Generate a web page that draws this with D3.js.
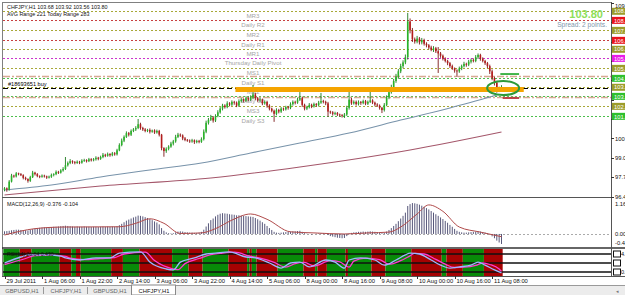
<!DOCTYPE html>
<html>
<head>
<meta charset="utf-8">
<script src="https://cdn.jsdelivr.net/npm/d3@7"></script>
<style>
body { margin: 0; background: #fff; overflow: hidden; }
svg { display: block; font-family: "Liberation Sans", Arial, sans-serif; }
</style>
</head>
<body>
<svg></svg>
<script>
// H1 closes, 29 Jul 14:00 .. 11 Aug 12:00
const closes = [
    97.00, 96.92, 97.45, 97.85, 97.80, 98.00, 97.95, 97.88, 97.70, 97.62,
    97.50, 97.75, 98.05, 97.95, 97.82, 97.78, 97.85, 97.80, 97.72, 97.78,
    97.90, 97.95, 98.10, 98.05, 98.20, 98.30, 98.55, 98.70, 98.82, 98.75,
    98.70, 98.78, 98.72, 98.85, 98.90, 98.82, 98.95, 98.88, 98.95, 99.05,
    98.98, 99.10, 99.25, 99.18, 99.30, 99.22, 99.35, 99.28, 99.55, 99.90,
    100.20, 100.45, 100.70, 100.60, 100.85, 100.95, 101.05, 101.30, 101.05, 100.95,
    100.85, 100.92, 100.80, 100.88, 100.75, 100.85, 100.60, 99.70, 99.50, 99.65,
    99.80, 100.00, 100.15, 100.45, 100.60, 100.55, 100.35, 100.25, 100.20, 100.15,
    100.22, 100.10, 100.18, 100.12, 100.30, 100.80, 101.40, 101.60, 101.75, 101.55,
    101.85, 102.10, 102.35, 102.55, 102.45, 102.70, 102.62, 102.80, 102.75, 102.55,
    102.85, 102.95, 102.88, 103.05, 102.95, 103.10, 103.30, 103.05, 102.90, 102.95,
    102.70, 102.80, 102.55, 102.35, 102.20, 102.00, 102.25, 102.15, 102.35, 102.30,
    102.45, 102.40, 102.65, 102.80, 102.75, 102.95, 103.05, 102.60, 102.35, 102.45,
    102.60, 102.50, 102.65, 102.58, 102.75, 102.85, 102.80, 102.70, 102.15, 102.10,
    102.00, 102.05, 101.95, 101.90, 101.85, 101.95, 102.40, 102.95, 102.70, 102.80,
    102.65, 102.78, 102.72, 102.85, 102.68, 102.80, 102.90, 102.75, 102.62, 102.55,
    102.40, 102.25, 102.60, 103.10, 103.45, 103.80, 104.20, 104.50, 104.85, 105.20,
    105.45, 105.80, 108.20, 107.60, 107.00, 106.85, 107.05, 106.80, 106.95, 106.70,
    106.60, 106.45, 106.30, 106.40, 106.20, 106.05, 105.90, 105.70, 105.55, 105.40,
    105.20, 105.05, 104.90, 104.85, 105.05, 105.20, 105.35, 105.30, 105.50, 105.60,
    105.55, 105.80, 105.95, 105.70, 105.55, 105.40, 105.20, 104.85, 104.40, 104.10,
    103.60, 103.68, 103.80
]
const firstOpen = 96.90

// wicks in pips above / below the body
const wickUp = [
    8, 6, 10, 12, 6, 9, 5, 7, 6, 8,
    5, 9, 12, 6, 7, 5, 8, 6, 5, 7,
    9, 6, 10, 7, 8, 12, 55, 10, 14, 6,
    8, 9, 6, 10, 8, 5, 9, 7, 8, 10,
    6, 9, 12, 7, 10, 6, 9, 8, 10, 12,
    14, 10, 12, 8, 10, 9, 12, 35, 10, 8,
    9, 7, 10, 6, 8, 9, 7, 5, 6, 10,
    9, 12, 10, 14, 12, 8, 7, 9, 6, 8,
    10, 6, 8, 7, 12, 15, 14, 12, 18, 10,
    12, 14, 10, 12, 9, 14, 8, 10, 7, 8,
    12, 10, 8, 12, 9, 14, 63, 10, 8, 12,
    7, 10, 8, 9, 6, 8, 12, 8, 10, 7,
    9, 8, 12, 10, 8, 14, 41, 10, 8, 9,
    12, 8, 10, 7, 12, 55, 9, 8, 10, 6,
    8, 9, 7, 6, 8, 10, 14, 78, 12, 10,
    9, 12, 8, 10, 8, 9, 90, 8, 7, 9,
    8, 6, 12, 14, 16, 15, 14, 18, 15, 16,
    14, 18, 57, 20, 16, 12, 18, 10, 14, 9,
    10, 8, 12, 14, 9, 28, 10, 8, 9, 7,
    8, 10, 6, 8, 12, 10, 14, 8, 12, 10,
    12, 14, 10, 8, 9, 7, 8, 10, 12, 9,
    10, 14, 12
]
const wickDn = [
    10, 15, 8, 6, 9, 7, 8, 6, 10, 8,
    12, 7, 6, 9, 8, 10, 7, 8, 9, 6,
    8, 10, 7, 9, 6, 8, 7, 9, 8, 10,
    9, 6, 10, 7, 8, 9, 6, 8, 7, 9,
    10, 7, 8, 9, 6, 10, 7, 9, 8, 6,
    8, 10, 7, 12, 9, 8, 10, 8, 12, 10,
    9, 8, 12, 7, 10, 8, 12, 15, 38, 12,
    10, 8, 12, 9, 8, 10, 12, 9, 8, 10,
    9, 12, 8, 10, 7, 9, 10, 12, 8, 14,
    10, 8, 9, 12, 10, 8, 12, 9, 14, 10,
    9, 10, 12, 8, 10, 9, 12, 14, 10, 9,
    12, 9, 14, 12, 10, 54, 10, 12, 9, 10,
    8, 12, 9, 10, 12, 8, 9, 14, 12, 10,
    9, 12, 8, 10, 9, 8, 10, 12, 35, 10,
    12, 9, 10, 8, 10, 13, 9, 12, 10, 8,
    10, 9, 12, 8, 10, 9, 8, 10, 12, 9,
    12, 20, 10, 9, 12, 10, 14, 12, 15, 12,
    14, 12, 16, 20, 18, 14, 12, 15, 14, 12,
    14, 12, 10, 15, 12, 131, 14, 12, 10, 14,
    12, 10, 14, 38, 10, 12, 9, 14, 10, 12,
    10, 9, 12, 14, 10, 12, 14, 18, 15, 20,
    18, 14, 12
]

// moving averages, read at a few bars
const maBlueBars = [0, 20, 41, 62, 84, 105, 126, 147, 169, 190, 210]
const maBlueVals = [96.89, 97.22, 97.76, 98.23, 98.70, 99.37, 100.04, 100.71, 101.58, 102.39, 103.26]
const maRedBars = [0, 41, 88, 126, 173, 212]
const maRedVals = [96.55, 97.15, 97.69, 98.43, 99.57, 100.78]

// pivot levels for Thursday
const pivotNames = ['MR3', 'Daily R2', 'MR2', 'Daily R1', 'MR1', 'Thursday  Daily Pivot',
    'MS1', 'Daily S1', 'MS2', 'Daily S2', 'MS3', 'Daily S3']
const pivotVals = [108.88, 108.27, 107.60, 106.93, 106.33, 105.72, 105.05, 104.38, 103.78, 103.17, 102.50, 101.83]
const pivotKinds = ['m', 'r', 'm', 'r', 'm', 'p', 'm', 's', 'm', 's', 'm', 's']

const orderPrice = 103.76
const dashPrices = [104.53, 103.13]
const zonePrice = 103.63
const zoneBars = [98.5, 221.5]
const tpPrice = 104.67
const slPrice = 103.06
const circleBar = 212.7
const circlePrice = 103.73

const priceTicks = [96.45, 97.75, 99.05, 100.35, 101.65, 102.95, 104.25, 105.55, 106.85, 108.15, 109.45]

const timeBars = [0, 16, 32, 48, 64, 80, 96, 112, 128, 144, 160, 176, 192, 208]
const timeLabels = ['29 Jul 2011', '1 Aug 06:00', '1 Aug 22:00', '2 Aug 14:00', '3 Aug 06:00',
    '3 Aug 22:00', '4 Aug 14:00', '5 Aug 06:00', '8 Aug 00:00', '8 Aug 16:00',
    '9 Aug 08:00', '10 Aug 00:00', '10 Aug 16:00', '11 Aug 08:00']

// MACD histogram per bar and signal line
const macdHist = [
    0.10, 0.11, 0.12, 0.14, 0.15, 0.16, 0.16, 0.15, 0.14, 0.14,
    0.13, 0.15, 0.18, 0.20, 0.22, 0.23, 0.24, 0.25, 0.24, 0.25,
    0.26, 0.27, 0.27, 0.28, 0.29, 0.30, 0.31, 0.30, 0.29, 0.28,
    0.27, 0.28, 0.27, 0.27, 0.28, 0.27, 0.27, 0.26, 0.27, 0.27,
    0.26, 0.27, 0.28, 0.27, 0.28, 0.27, 0.28, 0.27, 0.29, 0.33,
    0.38, 0.44, 0.50, 0.54, 0.58, 0.62, 0.65, 0.69, 0.68, 0.66,
    0.63, 0.60, 0.56, 0.52, 0.47, 0.43, 0.36, 0.22, 0.12, 0.06,
    0.03, 0.02, 0.03, 0.06, 0.09, 0.10, 0.09, 0.07, 0.06, 0.05,
    0.05, 0.04, 0.04, 0.05, 0.08, 0.16, 0.28, 0.40, 0.52, 0.58,
    0.66, 0.72, 0.76, 0.78, 0.77, 0.76, 0.74, 0.73, 0.72, 0.70,
    0.70, 0.69, 0.68, 0.67, 0.66, 0.65, 0.64, 0.60, 0.55, 0.50,
    0.44, 0.38, 0.30, 0.22, 0.15, 0.08, 0.05, 0.04, 0.05, 0.06,
    0.07, 0.08, 0.09, 0.10, 0.10, 0.11, 0.12, 0.08, 0.03, 0.01,
    0.00, -0.02, 0.00, 0.01, 0.02, 0.03, 0.03, 0.02, -0.04, -0.08,
    -0.10, -0.12, -0.14, -0.15, -0.16, -0.15, -0.08, 0.02, 0.04, 0.06,
    0.07, 0.08, 0.08, 0.09, 0.08, 0.09, 0.10, 0.09, 0.08, 0.07,
    0.05, 0.03, 0.04, 0.09, 0.15, 0.22, 0.30, 0.38, 0.48, 0.58,
    0.68, 0.80, 1.05, 1.12, 1.16, 1.15, 1.13, 1.10, 1.06, 1.02,
    0.97, 0.92, 0.86, 0.80, 0.74, 0.68, 0.62, 0.56, 0.49, 0.42,
    0.34, 0.27, 0.19, 0.12, 0.08, 0.06, 0.05, 0.05, 0.06, 0.07,
    0.08, 0.09, 0.10, 0.09, 0.07, 0.05, 0.03, -0.02, -0.09, -0.16,
    -0.25, -0.32, -0.376
]
const sigBars = [0, 13, 25, 49, 56, 62, 68, 75, 84, 90, 97, 105, 112, 122, 132, 145, 155, 164, 169, 176, 181, 187, 194, 203, 212]
const sigVals = [-0.04, 0.20, 0.26, 0.27, 0.40, 0.57, 0.40, 0.02, 0.04, 0.20, 0.52, 0.75, 0.55, 0.08, 0.04, 0.00, 0.04, 0.07, 0.26, 0.75, 1.09, 0.85, 0.26, 0.07, -0.104]
const macdTicks = [1.162, 0, -0.44]

// lower oscillator
const oscBarsA = [0, 7, 11, 17, 24, 26, 32, 39, 45, 49, 58, 62, 69, 72, 75, 81, 86, 90, 96, 103, 107, 113, 118, 122, 126, 130, 137, 141, 145, 147, 152, 158, 162, 167, 171, 173, 177, 182, 186, 190, 194, 199, 202, 205, 209, 212]
const oscValsA = [50, 70, 77, 77, 73, 67, 60, 67, 67, 83, 87, 53, 30, 27, 53, 67, 80, 83, 87, 70, 67, 50, 33, 50, 53, 37, 60, 53, 33, 60, 67, 60, 43, 60, 77, 83, 80, 60, 43, 33, 37, 43, 53, 43, 27, 17]
const oscBarsB = [0, 9, 13, 19, 26, 28, 34, 41, 47, 51, 60, 64, 71, 74, 77, 83, 88, 92, 98, 105, 109, 115, 120, 124, 128, 132, 139, 143, 147, 149, 154, 160, 164, 169, 173, 175, 179, 184, 188, 192, 196, 201, 204, 207, 211, 212]
const oscValsB = [45, 65, 75, 76, 72, 66, 61, 65, 68, 80, 86, 58, 32, 28, 48, 65, 78, 82, 86, 72, 66, 52, 36, 48, 52, 40, 58, 54, 36, 56, 66, 61, 46, 58, 74, 82, 80, 62, 46, 35, 36, 42, 50, 45, 30, 22]
const oscLevels = [80, 50, 20]
const oscTags = ['4.6', '', '0.42']
const bandStarts = [0, 7, 12, 24, 29, 31, 33, 46, 51, 58, 72, 79, 85, 96, 104, 105, 106, 108, 117, 128, 133, 134, 138, 146, 147, 157, 163, 174, 187, 189, 196, 205, 213]
const bandColors = ['g', 'r', 'g', 'r', 'g', 'r', 'g', 'r', 'g', 'r', 'g', 'r', 'g', 'r', 'g', 'r', 'g', 'r', 'g', 'r', 'g', 'r', 'g', 'r', 'g', 'r', 'g', 'r', 'g', 'r', 'g', 'r']

const tabNames = ['GBPUSD,H1', 'CHFJPY,H1', 'GBPUSD,H1', 'CHFJPY,H1']

// Canvas setup
let width = 625
let height = 295
let left = 3
let right = 611
let svg = d3.select('svg').attr('width', width).attr('height', height)

let x = d3.scaleLinear().domain([0, 212]).range([4.5, 501.5])
let y = d3.scaleLinear().domain([96.45, 109.45]).range([196.5, 2.8])
let yMacd = d3.scaleLinear().domain([-0.44, 1.162]).range([245.7, 203])
let yOsc = d3.scaleLinear().domain([0, 100]).range([278, 248])
let step = x(1) - x(0)

svg.append('rect').attr('width', width).attr('height', height).attr('fill', '#fff')

let defs = svg.append('defs')
let clip = (id, y0, y1) => {
    defs.append('clipPath').attr('id', id)
        .append('rect').attr('x', left).attr('y', y0).attr('width', right - left).attr('height', y1 - y0)
}
clip('cMain', 3, 197)
clip('cMacd', 198, 247.5)
clip('cOsc', 249, 276)

let main = svg.append('g').attr('clip-path', 'url(#cMain)')
let py = (v) => Math.round(y(v)) + 0.5

// Pivot lines and their labels
let pivotColor = { m: '#a8a838', r: '#c84040', p: '#cc33cc', s: '#4cbf4c' }
main.selectAll('.pv')
    .data(pivotVals)
    .enter()
    .append('line')
    .attr('x1', left).attr('x2', right)
    .attr('y1', (d) => py(d)).attr('y2', (d) => py(d))
    .attr('stroke', (d, i) => pivotColor[pivotKinds[i]])
    .attr('stroke-dasharray', '2,2')
    .attr('stroke-width', 1)

main.selectAll('.pvl')
    .data(pivotVals)
    .enter()
    .append('text')
    .attr('x', x(106))
    .attr('y', (d) => y(d) + 6.5)
    .attr('text-anchor', 'middle')
    .attr('font-size', 6.2)
    .attr('fill', '#a6a6a6')
    .text((d, i) => pivotNames[i])

main.selectAll('.dl')
    .data(dashPrices)
    .enter()
    .append('line')
    .attr('x1', left).attr('x2', right)
    .attr('y1', (d) => py(d)).attr('y2', (d) => py(d))
    .attr('stroke', '#d7a993')
    .attr('stroke-width', 1.3)
    .attr('stroke-dasharray', '7,2,2,2')

// order line
main.append('line')
    .attr('x1', left).attr('x2', right)
    .attr('y1', py(orderPrice)).attr('y2', py(orderPrice))
    .attr('stroke', '#000').attr('stroke-dasharray', '5,3')
main.append('text')
    .attr('x', 8).attr('y', y(orderPrice) - 2)
    .attr('font-size', 5.6).attr('fill', '#000')
    .text('#18693651 buy')

// moving averages
let lineGen = d3.line().x((d) => x(d[0])).y((d) => y(d[1])).curve(d3.curveMonotoneX)
main.append('path')
    .attr('d', lineGen(maRedBars.map((b, i) => [b, maRedVals[i]])))
    .attr('fill', 'none').attr('stroke', '#a4566a').attr('stroke-width', 1.1)
main.append('path')
    .attr('d', lineGen(maBlueBars.map((b, i) => [b, maBlueVals[i]])))
    .attr('fill', 'none').attr('stroke', '#7893aa').attr('stroke-width', 1.1)

// candles
let candles = closes.map((c, i) => {
    let o = i === 0 ? firstOpen : closes[i - 1]
    return { i: i, o: o, c: c, h: Math.max(o, c) + wickUp[i] / 100, l: Math.min(o, c) - wickDn[i] / 100 }
})
main.selectAll('.wick')
    .data(candles)
    .enter()
    .append('line')
    .attr('x1', (d) => x(d.i)).attr('x2', (d) => x(d.i))
    .attr('y1', (d) => y(d.h)).attr('y2', (d) => y(d.l))
    .attr('stroke', (d) => d.c >= d.o ? '#1d7a1d' : '#7a1616')
    .attr('stroke-width', 0.9)
main.selectAll('.body')
    .data(candles)
    .enter()
    .append('rect')
    .attr('x', (d) => x(d.i) - 0.8)
    .attr('width', 1.6)
    .attr('y', (d) => y(Math.max(d.o, d.c)))
    .attr('height', (d) => Math.max(0.8, Math.abs(y(d.o) - y(d.c))))
    .attr('fill', (d) => d.c >= d.o ? '#28b428' : '#b41c1c')

// drawn objects
main.append('line')
    .attr('x1', x(zoneBars[0])).attr('x2', x(zoneBars[1]))
    .attr('y1', y(zonePrice)).attr('y2', y(zonePrice))
    .attr('stroke', '#f5a400').attr('stroke-width', 5)
main.append('ellipse')
    .attr('cx', x(circleBar)).attr('cy', y(circlePrice))
    .attr('rx', 16).attr('ry', 7)
    .attr('fill', 'none').attr('stroke', '#2e9a3a').attr('stroke-width', 2)
main.append('line')
    .attr('x1', x(211.5)).attr('x2', x(219.5))
    .attr('y1', y(tpPrice)).attr('y2', y(tpPrice))
    .attr('stroke', '#2fae3a').attr('stroke-width', 1.8)
main.append('line')
    .attr('x1', x(212.5)).attr('x2', x(219.5))
    .attr('y1', y(slPrice)).attr('y2', y(slPrice))
    .attr('stroke', '#b8343a').attr('stroke-width', 1.8)

// header texts
svg.append('text').attr('x', 7).attr('y', 9).attr('font-size', 5.4).attr('fill', '#111')
    .text('CHFJPY,H1  103.68 103.92 103.56 103.80')
svg.append('text').attr('x', 7).attr('y', 16).attr('font-size', 5.4).attr('fill', '#111')
    .text('AVG Range 221    Today Range 283')
svg.append('text').attr('x', 603).attr('y', 18).attr('text-anchor', 'end')
    .attr('font-size', 11).attr('font-weight', 'bold').attr('fill', '#8ee05a')
    .text('103.80')
svg.append('text').attr('x', 607).attr('y', 26.5).attr('text-anchor', 'end')
    .attr('font-size', 6.6).attr('fill', '#7f97ad')
    .text('Spread: 2 points.')

// MACD panel
let macd = svg.append('g').attr('clip-path', 'url(#cMacd)')
macd.append('line')
    .attr('x1', left).attr('x2', right)
    .attr('y1', Math.round(yMacd(0)) + 0.5).attr('y2', Math.round(yMacd(0)) + 0.5)
    .attr('stroke', '#aaa').attr('stroke-dasharray', '2,2')
macd.selectAll('.hist')
    .data(macdHist)
    .enter()
    .append('line')
    .attr('x1', (d, i) => x(i)).attr('x2', (d, i) => x(i))
    .attr('y1', yMacd(0)).attr('y2', (d) => yMacd(d))
    .attr('stroke', '#45456c').attr('stroke-width', 0.9)
macd.append('path')
    .attr('d', d3.line().x((d) => x(d[0])).y((d) => yMacd(d[1])).curve(d3.curveMonotoneX)(sigBars.map((b, i) => [b, sigVals[i]])))
    .attr('fill', 'none').attr('stroke', '#b04a4a').attr('stroke-width', 1)
svg.append('text').attr('x', 7).attr('y', 206).attr('font-size', 5.4).attr('fill', '#111')
    .text('MACD(12,26,9) -0.376 -0.104')

// Oscillator panel
let osc = svg.append('g').attr('clip-path', 'url(#cOsc)')
osc.selectAll('.band')
    .data(bandColors)
    .enter()
    .append('rect')
    .attr('x', (d, i) => x(bandStarts[i]) - step / 2)
    .attr('width', (d, i) => x(bandStarts[i + 1]) - x(bandStarts[i]))
    .attr('y', 249).attr('height', 27)
    .attr('fill', (d) => d === 'g' ? '#088a08' : '#a50202')
osc.selectAll('.lvl')
    .data(oscLevels)
    .enter()
    .append('line')
    .attr('x1', left).attr('x2', right)
    .attr('y1', (d) => yOsc(d)).attr('y2', (d) => yOsc(d))
    .attr('stroke', '#111').attr('stroke-width', 1.6)
let oscLine = d3.line().x((d) => x(d[0])).y((d) => yOsc(d[1])).curve(d3.curveMonotoneX)
osc.append('path')
    .attr('d', oscLine(oscBarsB.map((b, i) => [b, oscValsB[i]])))
    .attr('fill', 'none').attr('stroke', '#ff38d0').attr('stroke-width', 1.3)
osc.append('path')
    .attr('d', oscLine(oscBarsA.map((b, i) => [b, oscValsA[i]])))
    .attr('fill', 'none').attr('stroke', '#9cb6ff').attr('stroke-width', 1.3)
svg.append('text').attr('x', 7).attr('y', 256).attr('font-size', 5.2).attr('fill', '#111')
    .text('RSI(14) 26.64 0.430')

// frames and separators
svg.append('rect').attr('x', 2.5).attr('y', 2.5).attr('width', right - 2).attr('height', 274)
    .attr('fill', 'none').attr('stroke', '#808080')
svg.append('line').attr('x1', 2).attr('x2', right).attr('y1', 197.5).attr('y2', 197.5).attr('stroke', '#555')
svg.append('line').attr('x1', 2).attr('x2', 625).attr('y1', 248).attr('y2', 248).attr('stroke', '#333').attr('stroke-width', 1.6)
svg.append('line').attr('x1', 2).attr('x2', 625).attr('y1', 276.5).attr('y2', 276.5).attr('stroke', '#555')
svg.append('line').attr('x1', right + 0.5).attr('x2', right + 0.5).attr('y1', 2).attr('y2', 277).attr('stroke', '#555')

// price axis: plain ticks are hidden where a level box sits on them
let axis = svg.append('g')
let shownTicks = priceTicks.filter((t) => pivotVals.every((p) => Math.abs(y(p) - y(t)) > 6))
axis.selectAll('.pt')
    .data(priceTicks)
    .enter()
    .append('line')
    .attr('x1', right).attr('x2', right + 3)
    .attr('y1', (d) => py(d)).attr('y2', (d) => py(d))
    .attr('stroke', '#333')
axis.selectAll('.ptl')
    .data(shownTicks)
    .enter()
    .append('text')
    .attr('x', right + 4).attr('y', (d) => Math.max(7.5, y(d) + 2.2))
    .attr('font-size', 5.8).attr('fill', '#111')
    .text((d) => d.toFixed(2))

let boxColor = { m: '#9c9c2a', r: '#e8141c', p: '#e81ce8', s: '#2ec02e' }
axis.selectAll('.pb')
    .data(pivotVals)
    .enter()
    .append('rect')
    .attr('x', right + 1).attr('y', (d) => y(d) - 3.5)
    .attr('width', 14).attr('height', 7)
    .attr('fill', (d, i) => boxColor[pivotKinds[i]])
axis.selectAll('.pbl')
    .data(pivotVals)
    .enter()
    .append('text')
    .attr('x', right + 3).attr('y', (d) => y(d) + 2.2)
    .attr('font-size', 5.8).attr('fill', '#fff')
    .text((d) => d.toFixed(2))

axis.selectAll('.mt')
    .data(macdTicks)
    .enter()
    .append('text')
    .attr('x', right + 4).attr('y', (d, i) => [206, 236, 245][i])
    .attr('font-size', 5.8).attr('fill', '#111')
    .text((d) => d === 1.162 ? '1.162' : d.toFixed(2))

axis.selectAll('.ob')
    .data(oscLevels)
    .enter()
    .append('rect')
    .attr('x', right + 2.5).attr('y', (d) => yOsc(d) - 3)
    .attr('width', 7).attr('height', 6)
    .attr('fill', '#fff').attr('stroke', '#111')
axis.selectAll('.obl')
    .data(oscLevels)
    .enter()
    .append('text')
    .attr('x', right + 10).attr('y', (d) => yOsc(d) + 2)
    .attr('font-size', 5.6).attr('fill', '#111')
    .text((d, i) => oscTags[i])

// time axis
svg.selectAll('.tt')
    .data(timeBars)
    .enter()
    .append('line')
    .attr('x1', (d) => Math.round(x(d)) + 0.5).attr('x2', (d) => Math.round(x(d)) + 0.5)
    .attr('y1', 276).attr('y2', 279)
    .attr('stroke', '#333')
svg.selectAll('.tl')
    .data(timeBars)
    .enter()
    .append('text')
    .attr('x', (d) => x(d) + 2).attr('y', 283)
    .attr('font-size', 5.8).attr('fill', '#111')
    .text((d, i) => timeLabels[i])

// tabs
svg.append('rect').attr('x', 0).attr('y', 285).attr('width', width).attr('height', 10).attr('fill', '#ececec')
svg.append('line').attr('x1', 0).attr('x2', width).attr('y1', 285.5).attr('y2', 285.5).attr('stroke', '#9a9a9a')
let tabW = 44
svg.append('rect').attr('x', 3 * tabW - 0.5).attr('y', 285).attr('width', tabW).attr('height', 10)
    .attr('fill', '#fff').attr('stroke', '#888')
svg.selectAll('.tab')
    .data(tabNames)
    .enter()
    .append('text')
    .attr('x', (d, i) => i * tabW + tabW / 2).attr('y', 292.5)
    .attr('text-anchor', 'middle')
    .attr('font-size', 5.8).attr('fill', (d, i) => i === 3 ? '#111' : '#666')
    .text((d) => d)
svg.selectAll('.tsep')
    .data([1, 2])
    .enter()
    .append('line')
    .attr('x1', (d) => d * tabW - 0.5).attr('x2', (d) => d * tabW - 0.5)
    .attr('y1', 287).attr('y2', 294)
    .attr('stroke', '#999')
svg.append('text').attr('x', 616).attr('y', 292.5).attr('font-size', 5).attr('fill', '#777').text('◂')
</script>
</body>
</html>
